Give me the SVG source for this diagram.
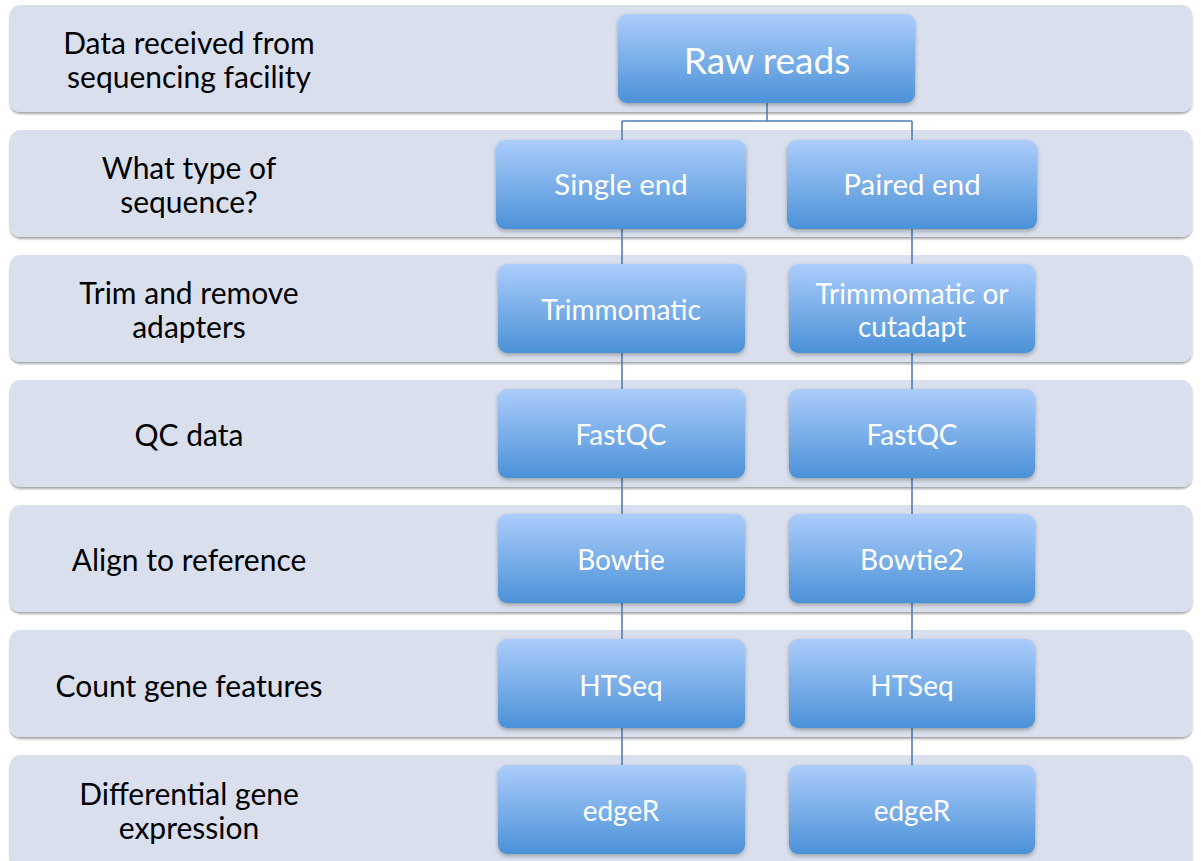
<svg xmlns="http://www.w3.org/2000/svg" width="1201" height="861" viewBox="0 0 1201 861">
<defs>
<linearGradient id="boxGrad" x1="0" y1="0" x2="0" y2="1">
<stop offset="0" stop-color="#abcdfb"/>
<stop offset="1" stop-color="#4b91d7"/>
</linearGradient>
<filter id="bandShadow" x="-2%" y="-10%" width="104%" height="125%">
<feDropShadow dx="0" dy="2" stdDeviation="1.2" flood-color="#000" flood-opacity="0.35"/>
</filter>
<filter id="boxShadow" x="-5%" y="-10%" width="110%" height="125%">
<feDropShadow dx="0" dy="2" stdDeviation="2" flood-color="#000" flood-opacity="0.3"/>
</filter>
<style>
.band{fill:#d9dfec;filter:url(#bandShadow);}
.box{fill:url(#boxGrad);filter:url(#boxShadow);}
.lbl{font-family:Lato,"Liberation Sans",sans-serif;font-size:30px;fill:#000;text-anchor:middle;}
.bt{font-family:Lato,"Liberation Sans",sans-serif;font-size:28px;fill:#fff;text-anchor:middle;}
.conn{stroke:#4f7fb5;stroke-width:1.6;fill:none;}
</style>
</defs>
<rect width="1201" height="861" fill="#fff"/>
<g id="bands">
<g id="band1"><rect class="band" x="10" y="5" width="1182" height="107" rx="10"/><text class="lbl" x="189" y="54">Data received from</text><text class="lbl" x="189" y="88">sequencing facility</text></g>
<g id="band2"><rect class="band" x="10" y="130" width="1182" height="107" rx="10"/><text class="lbl" x="189" y="179">What type of</text><text class="lbl" x="189" y="213">sequence?</text></g>
<g id="band3"><rect class="band" x="10" y="255" width="1182" height="107" rx="10"/><text class="lbl" x="189" y="304">Trim and remove</text><text class="lbl" x="189" y="338">adapters</text></g>
<g id="band4"><rect class="band" x="10" y="380" width="1182" height="107" rx="10"/><text class="lbl" x="189" y="446">QC data</text></g>
<g id="band5"><rect class="band" x="10" y="505" width="1182" height="107" rx="10"/><text class="lbl" x="189" y="571">Align to reference</text></g>
<g id="band6"><rect class="band" x="10" y="630" width="1182" height="107" rx="10"/><text class="lbl" x="189" y="697">Count gene features</text></g>
<g id="band7"><rect class="band" x="10" y="755" width="1182" height="112" rx="10"/><text class="lbl" x="189" y="805">Differential gene</text><text class="lbl" x="189" y="839">expression</text></g>
</g>
<g id="connectors">
<path class="conn" d="M767 103 V121 M622 121 H912 M622 121 V140 M912 121 V140"/>
<path class="conn" d="M622 229 V265 M622 353 V390 M622 478 V515 M622 603 V640 M622 728 V765"/>
<path class="conn" d="M912 229 V265 M912 353 V390 M912 478 V515 M912 603 V640 M912 728 V765"/>
</g>
<g id="raw-reads"><rect class="box" x="618" y="14" width="297" height="89" rx="9"/><text class="bt" x="767" y="74" style="font-size:37px">Raw reads</text></g>
<g id="single-end"><rect class="box" x="496" y="140" width="250" height="89" rx="9"/><text class="bt" x="621" y="195" style="font-size:29.5px">Single end</text></g>
<g id="paired-end"><rect class="box" x="787" y="140" width="250" height="89" rx="9"/><text class="bt" x="912" y="195" style="font-size:29.5px">Paired end</text></g>
<g id="trim-se"><rect class="box" x="498" y="264" width="247" height="89" rx="9"/><text class="bt" x="621" y="320">Trimmomatic</text></g>
<g id="trim-pe"><rect class="box" x="789" y="264" width="246" height="89" rx="9"/><text class="bt" x="912" y="304">Trimmomatic or</text><text class="bt" x="912" y="337">cutadapt</text></g>
<g id="fastqc-se"><rect class="box" x="498" y="389" width="247" height="89" rx="9"/><text class="bt" x="621" y="445">FastQC</text></g>
<g id="fastqc-pe"><rect class="box" x="789" y="389" width="246" height="89" rx="9"/><text class="bt" x="912" y="445">FastQC</text></g>
<g id="bowtie-se"><rect class="box" x="498" y="514" width="247" height="89" rx="9"/><text class="bt" x="621" y="570">Bowtie</text></g>
<g id="bowtie-pe"><rect class="box" x="789" y="514" width="246" height="89" rx="9"/><text class="bt" x="912" y="570">Bowtie2</text></g>
<g id="htseq-se"><rect class="box" x="498" y="639" width="247" height="89" rx="9"/><text class="bt" x="621" y="696">HTSeq</text></g>
<g id="htseq-pe"><rect class="box" x="789" y="639" width="246" height="89" rx="9"/><text class="bt" x="912" y="696">HTSeq</text></g>
<g id="edger-se"><rect class="box" x="498" y="765" width="247" height="89" rx="9"/><text class="bt" x="621" y="821">edgeR</text></g>
<g id="edger-pe"><rect class="box" x="789" y="765" width="246" height="89" rx="9"/><text class="bt" x="912" y="821">edgeR</text></g>
</svg>
